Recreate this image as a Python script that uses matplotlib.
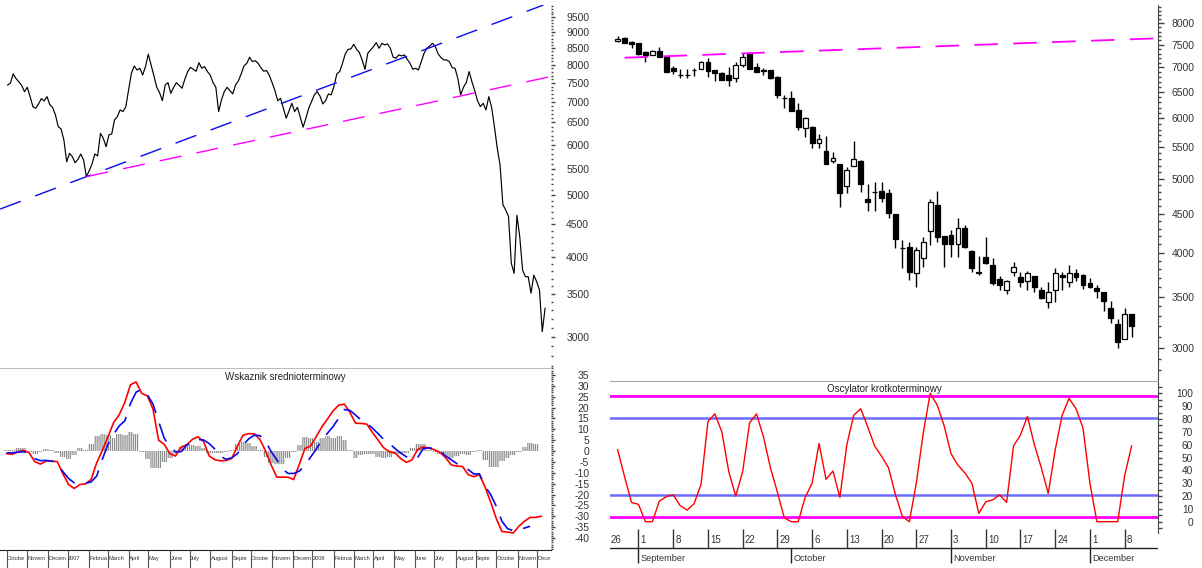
import numpy as np
import pandas as pd
import matplotlib
matplotlib.use('Agg')
import matplotlib.pyplot as plt
from matplotlib.ticker import FixedLocator, NullFormatter, FuncFormatter
from matplotlib.patches import Rectangle

plt.rcParams['font.family'] = ['Liberation Sans', 'DejaVu Sans']
plt.rcParams['lines.scale_dashes'] = False
plt.rcParams['hatch.linewidth'] = 0.6

# ---------------- long-term chart data ----------------
LONG_ORIGIN = '2006-10-02'
close_start = '2006-10-03'          # one value every 3 trading days
close_every3 = [
    7440, 7490, 7745, 7615, 7525, 7430, 7265, 7380, 7135, 6880,
    6840, 6950, 7085, 7025, 7135, 6930, 6860, 6680, 6400, 6350,
    6100, 5640, 5815, 5745, 5620, 5690, 5800, 5675, 5345, 5460,
    5595, 5800, 5760, 6250, 6140, 5955, 6215, 6235, 6560, 6640,
    6800, 6760, 6880, 7310, 7765, 7970, 7855, 7905, 7715, 7950,
    8315, 8000, 7690, 7380, 7240, 7030, 7440, 7505, 7220, 7380,
    7505, 7430, 7355, 7600, 7810, 7930, 7875, 7820, 8065, 7905,
    7950, 7810, 7715, 7505, 7380, 6760, 7050, 7265, 7380, 7290,
    7205, 7440, 7550, 7745, 7970, 8048, 8225, 8096, 8125, 8048,
    7920, 7820, 7840, 7705, 7505, 7290, 7030, 7090, 6840, 6600,
    6775, 6965, 6760, 6865, 6620, 6390, 6600, 6840, 7010, 7180,
    7265, 7150, 6950, 7030, 7205, 7180, 7415, 7745, 7810, 8048,
    8325, 8465, 8475, 8620, 8465, 8365, 8145, 7875, 8345, 8445,
    8545, 8670, 8495, 8650, 8600, 8630, 8495, 8225, 8195, 8295,
    8265, 8295, 8165, 8048, 7875, 7905, 7855, 8096, 8345, 8495,
    8565, 8650, 8545, 8325, 8215, 8145, 8145, 8096, 7920, 7905,
    7615, 7180, 7380, 7505, 7810, 7530, 7290, 7030, 6880, 6965,
    6800, 7135, 6865, 6400, 5920, 5575, 4830, 4740, 4630, 3909,
    3770, 4650, 4300, 3816, 3725, 3725, 3510, 3745, 3659, 3550,
    3055, 3323]

ind_start = '2006-10-02'            # one value every 6 trading days
ind_red = [
    -1.2, -1.5, -0.3, 0.3, -0.8, -4.9, -6.0, -4.6, -4.6, -4.9,
    -10.5, -15.4, -17.2, -15.4, -15.1, -13.1, -5.4, 0.3, 6.5, 13.1,
    16.7, 22.4, 30.5, 31.8, 26.5, 25.4, 19.3, 5.0, 3.1, -1.2,
    -2.3, 1.9, 2.8, 5.4, 6.6, 4.3, -2.3, -4.0, -4.5, -4.3,
    -3.4, 2.3, 7.3, 8.0, 7.9, 5.4, 0.0, -6.4, -12.0, -12.0,
    -12.0, -13.1, -6.1, 1.2, 2.3, 6.6, 11.1, 14.7, 18.5, 21.1,
    21.6, 17.7, 12.8, 12.7, 12.4, 8.5, 5.0, 1.5, -0.3, -0.9,
    -3.4, -5.2, -4.1, 0.7, 1.9, 1.4, 0.6, -0.6, -3.1, -6.4,
    -6.9, -7.1, -10.8, -11.8, -10.8, -16.6, -23.4, -31.1, -37.0, -37.3,
    -37.7, -34.6, -32.3, -30.5, -30.5, -30.0]
ind_blue = [
    -0.8, -0.8, -0.5, -0.3, -0.8, -3.5, -4.4, -4.3, -4.6, -5.8,
    -9.5, -12.6, -14.6, -14.9, -14.8, -14.2, -11.5, -3.8, 3.1, 7.7,
    11.6, 13.9, 21.9, 27.1, 28.4, 25.9, 21.6, 13.6, 5.9, 1.9,
    -0.3, -0.3, 2.8, 4.2, 5.3, 5.1, 3.4, 0.9, -2.4, -3.8,
    -3.1, -1.2, 2.8, 5.6, 7.3, 7.1, 4.6, -0.3, -4.0, -8.3,
    -10.3, -10.3, -9.2, -6.6, -2.8, 0.9, 5.0, 8.2, 11.3, 15.1,
    19.1, 18.7, 16.5, 14.2, 12.8, 10.5, 8.0, 5.3, 3.4, 1.2,
    -0.9, -2.6, -3.7, -3.1, 1.1, 1.5, 1.1, 0.2, -2.3, -4.0,
    -5.8, -6.9, -8.5, -10.5, -10.5, -16.2, -20.0, -25.4, -32.3, -35.7,
    -36.6, -36.3, -35.4, -34.6]
ind_hist = [
    0.3, 0.6, 1.2, 1.2, -0.3, -1.2, -0.3, 1.1, 0.6, -0.8,
    -2.8, -3.8, -1.8, 1.5, 0.6, 3.4, 6.9, 8.0, 7.4, 5.9,
    7.7, 7.3, 8.8, 8.0, -0.3, -3.8, -8.0, -8.0, -4.9, -3.4,
    -1.2, 2.0, 3.1, 2.9, 2.3, 1.2, -0.8, -0.8, -0.9, -0.6,
    0.3, 3.1, 4.3, 3.8, 2.1, 0.6, -2.8, -5.4, -6.1, -6.1,
    -3.1, -0.3, 2.8, 6.5, 5.9, 4.3, 5.9, 7.1, 5.9, 6.8,
    5.0, 0.3, -3.1, -1.8, -1.2, -1.5, -2.8, -3.4, -2.8, -1.2,
    -1.2, -0.9, 1.2, 3.4, 3.1, 0.7, -0.5, -1.2, -2.5, -3.4,
    -2.3, -1.5, -1.8, -0.3, 0.7, -4.3, -7.4, -7.2, -4.6, -3.1,
    -1.8, -0.3, 1.9, 3.6, 3.1]

blue_trend_dates = ['2007-01-29', '2008-06-30']
blue_trend_vals = [5345, 8556]
mag_trend_dates = ['2007-01-29', '2008-08-11']
mag_trend_vals = [5345, 7157]

left_price_ticks = list(range(3000, 10000, 500))
left_ind_ticks = list(range(-40, 40, 5))
# month labels as they appear (truncated) on the long chart's time axis
left_month_labels = ['Octobe', 'Novem', 'Decem', '2007', 'Februa', 'March',
                     'April', 'May', 'June', 'July', 'August', 'Septe', 'Octobe',
                     'Novem', 'Decem', '2008', 'Februa', 'March', 'April', 'May',
                     'June', 'July', 'August', 'Septe', 'Octobe', 'Novem', 'Dece']
left_title = 'Wskaznik srednioterminowy'

# ---------------- short-term chart data ----------------
candle_start = '2008-08-27'
c_open = [7575, 7655, 7570, 7530, 7345, 7270, 7366, 7248, 6983, 6850,
          6845, 6940, 6968, 7124, 6947, 6892, 6836, 6774, 7053, 7306,
          7004, 6947, 6947, 6809, 6390, 6390, 6156, 5835, 5852, 5565,
          5438, 5281, 5223, 4897, 5197, 5281, 4699, 4805, 4818, 4784,
          4490, 4060, 4063, 3756, 3931, 4273, 4619, 4205, 4218, 4100,
          4304, 4023, 3770, 3950, 3852, 3689, 3572, 3775, 3711, 3670,
          3726, 3572, 3441, 3572, 3737, 3663, 3756, 3737, 3652, 3590,
          3546, 3379, 3223, 3080, 3318]
c_high = [7700, 7685, 7575, 7535, 7350, 7380, 7455, 7250, 7039, 6961,
          6960, 6983, 7140, 7197, 6950, 6900, 7004, 7124, 7320, 7310,
          7089, 6983, 6955, 6815, 6442, 6527, 6281, 6032, 5860, 5725,
          5690, 5427, 5230, 5187, 5610, 5285, 4917, 4956, 4956, 4840,
          4495, 4155, 4134, 4072, 4197, 4699, 4813, 4210, 4282, 4436,
          4347, 4030, 3958, 4188, 3931, 3726, 3680, 3891, 3775, 3787,
          3730, 3608, 3663, 3813, 3775, 3852, 3802, 3745, 3700, 3626,
          3550, 3455, 3268, 3379, 3320]
c_low = [7550, 7530, 7418, 7280, 7124, 7260, 7220, 6900, 6864, 6774,
         6790, 6823, 6960, 6795, 6713, 6730, 6626, 6706, 7004, 6960,
         6905, 6843, 6760, 6377, 6187, 6130, 5794, 5678, 5482, 5482,
         5220, 5239, 4586, 4794, 5190, 4809, 4540, 4540, 4665, 4436,
         4051, 3813, 3681, 3601, 3833, 4092, 4125, 3833, 3950, 3950,
         4060, 3775, 3737, 3860, 3630, 3572, 3529, 3726, 3601, 3572,
         3546, 3480, 3379, 3448, 3572, 3608, 3674, 3579, 3595, 3483,
         3355, 3236, 3000, 3075, 3102]
c_close = [7620, 7545, 7510, 7292, 7270, 7366, 7233, 6913, 6933, 6843,
           6840, 6947, 7124, 6933, 6892, 6741, 6741, 7053, 7233, 6968,
           6913, 6920, 6774, 6442, 6377, 6137, 5852, 6002, 5565, 5633,
           5228, 5319, 4794, 5134, 5303, 4917, 4656, 4809, 4722, 4503,
           4163, 4059, 3768, 4031, 4125, 4665, 4197, 4100, 4100, 4304,
           4072, 3813, 3764, 3872, 3644, 3626, 3674, 3833, 3663, 3756,
           3601, 3483, 3546, 3756, 3711, 3756, 3711, 3626, 3601, 3561,
           3455, 3278, 3049, 3318, 3206]
osc_vals = [56, 35, 15, 13.5, 0, 0, 16, 19.5, 21, 12.5,
            9, 14, 29, 78, 84, 70, 39, 20, 39, 77,
            84, 66, 42, 23, 3, 0, 0, 19, 30, 61,
            33, 39.5, 19, 60, 83, 88, 74, 59, 51, 42,
            21, 4, 0, 30, 69, 100, 91, 75, 53, 44,
            38, 30, 6.5, 15.5, 17, 21, 15, 59, 67.5, 82,
            60, 42, 22, 56, 83, 96, 88, 73, 30, 0,
            0, 0, 0, 36, 59]
osc_outer = [4, 98]
osc_inner = [21, 81]
short_trend_pos = [1, 75]
short_trend_vals = [7210, 7630]
right_price_ticks = list(range(3000, 8500, 500))
osc_ticks = list(range(0, 110, 10))
first_week_label = '26'
right_title = 'Oscylator krotkoterminowy'

# ---------------- figure ----------------
W, H = 1202, 568
fig = plt.figure(figsize=(W / 100, H / 100), dpi=100)


def rect(x0, y0, x1, y1):
    return [x0 / W, 1 - y1 / H, (x1 - x0) / W, (y1 - y0) / H]


def bidx(dates):
    d = pd.DatetimeIndex(pd.to_datetime(dates)).values.astype('datetime64[D]')
    return np.busday_count(np.datetime64(LONG_ORIGIN), d)


ax1 = fig.add_axes(rect(0, 5, 551, 368))
ax2 = fig.add_axes(rect(0, 368, 551, 550))
ax2d = fig.add_axes(rect(0, 550, 551, 568))
ax3 = fig.add_axes(rect(610, 5, 1158, 381))
ax4 = fig.add_axes(rect(610, 381, 1158, 533))
ax4d = fig.add_axes(rect(610, 528, 1158, 568))

XL = (-7.1, 580.3)
XR = (-1.1, 77.8)
TXT = '#333333'
TICKC = '#444444'


def right_ticks(ax, major, minor, fmt_pad, maj_len, min_len, size):
    ax.yaxis.tick_right()
    ax.yaxis.set_major_locator(FixedLocator(major))
    ax.yaxis.set_minor_locator(FixedLocator(minor))
    ax.yaxis.set_major_formatter(FuncFormatter(lambda v, p: f'{v:.0f}'))
    ax.yaxis.set_minor_formatter(NullFormatter())
    ax.tick_params(axis='y', which='major', direction='out', length=maj_len, width=1,
                   color=TICKC, labelsize=size, labelcolor=TXT, pad=fmt_pad)
    ax.tick_params(axis='y', which='minor', direction='out', length=min_len, width=1,
                   color=TICKC)
    ax.tick_params(axis='x', which='both', bottom=False, top=False,
                   labelbottom=False, labeltop=False)
    for s in ax.spines.values():
        s.set_visible(False)


# ---- left price ----
close_dates = pd.bdate_range(close_start, periods=len(close_every3), freq='3B')
x_close = bidx(close_dates)
ax1.plot(x_close, close_every3, color='black', lw=0.85)
ax1.set_yscale('log')
ax1.set_xlim(XL)
ax1.set_ylim(2679, 9932)
xb = bidx(blue_trend_dates)
ax1.axline((xb[0], blue_trend_vals[0]), (xb[1], blue_trend_vals[1]),
           color='#0a0aee', lw=1.0, ls=(0, (16, 11)))
xm = bidx(mag_trend_dates)
lvm = np.log(mag_trend_vals)
slm = (lvm[1] - lvm[0]) / (xm[1] - xm[0])
xe = XL[1] + 5
ax1.plot([xm[0], xe], [mag_trend_vals[0], np.exp(lvm[0] + slm * (xe - xm[0]))],
         color='#ff00ff', lw=1.0, ls=(0, (16, 11)))
right_ticks(ax1, left_price_ticks, list(range(2700, 10000, 100)), 24.5, 3, 1.5, 7.5)

# ---- left indicator ----
ind_dates = pd.bdate_range(ind_start, periods=len(ind_red), freq='6B')
x_ind = bidx(ind_dates)
ax2.bar(x_ind[:len(ind_hist)], ind_hist, width=6, facecolor='#8c8c8c', edgecolor='white',
        hatch='||||||||', linewidth=0)
ax2.plot(x_ind, ind_red, color='#ff0000', lw=1.2)
ax2.plot(x_ind[:len(ind_blue)], ind_blue, color='#0a0aee', lw=1.2, ls=(0, (14, 8)))
ax2.set_xlim(XL)
ax2.set_ylim(-45.5, 38.2)
right_ticks(ax2, left_ind_ticks, list(range(-45, 39, 1)), 24.5, 3, 1.5, 7.5)
ax2.spines['top'].set_visible(True)
ax2.spines['top'].set_color('#bdbdbd')
ax2.spines['bottom'].set_visible(True)
ax2.spines['bottom'].set_color('#222222')
fig.text(285 / W, 1 - 377 / H, left_title, ha='center', va='center', fontsize=7, color='#222222')

# ---- left date band ----
ax2d.set_xlim(XL)
ax2d.set_ylim(0, 1)
ax2d.axis('off')
months = pd.date_range('2006-10-01', '2008-12-31', freq='BMS')
mx = bidx(months)
ax2d.vlines(mx, 0, 1, color='#555555', lw=0.8)
edges = list(mx) + [XL[1]]
for i, lab in enumerate(left_month_labels):
    t = ax2d.text(mx[i] + 0.6, 0.42, lab, fontsize=4.1, va='baseline', ha='left',
                  color=TXT, clip_on=True)
    t.set_clip_path(Rectangle((mx[i], 0), edges[i + 1] - mx[i], 1, transform=ax2d.transData))

# ---- right candles ----
n = len(c_open)
xc = np.arange(n)
o = np.array(c_open, float)
c = np.array(c_close, float)
up = c >= o
ax3.vlines(xc, c_low, c_high, color='black', lw=1.0, zorder=2)
lo = np.minimum(o, c)
hi = np.maximum(o, c)
ax3.bar(xc, hi - lo, bottom=lo, width=0.7, color=np.where(up, 'white', 'black'),
        edgecolor='black', linewidth=0.9, zorder=3)
ax3.set_yscale('log')
ax3.set_xlim(XR)
ax3.set_ylim(2712, 8456)
lvs = np.log(short_trend_vals)
sls = (lvs[1] - lvs[0]) / (short_trend_pos[1] - short_trend_pos[0])
xe2 = XR[1] + 3
ax3.plot([short_trend_pos[0], xe2],
         [short_trend_vals[0], np.exp(lvs[0] + sls * (xe2 - short_trend_pos[0]))],
         color='#ff00ff', lw=1.3, ls=(0, (17, 11)), zorder=4)
right_ticks(ax3, right_price_ticks, list(range(2800, 8500, 100)), 22.3, 4, 2, 7.5)
ax3.spines['right'].set_visible(True)
ax3.spines['right'].set_color(TICKC)

# ---- right oscillator ----
ax4.plot(xc, osc_vals, color='#ff0000', lw=1.0, zorder=3)
for v in osc_outer:
    ax4.axhline(v, color='#ff00ff', lw=2.0, zorder=2)
for v in osc_inner:
    ax4.axhline(v, color='#6a6aff', lw=1.8, zorder=2)
ax4.set_xlim(XR)
ax4.set_ylim(-8.8, 109.6)
right_ticks(ax4, osc_ticks, list(range(-5, 110, 5)), 22.3, 3, 3, 7.3)
ax4.spines['right'].set_visible(True)
ax4.spines['right'].set_color(TICKC)
ax4.spines['top'].set_visible(True)
ax4.spines['top'].set_color('#aaaaaa')
fig.text(884 / W, 1 - 389 / H, right_title, ha='center', va='center', fontsize=7, color='#222222')

# ---- right date band ----
ax4d.set_xlim(XR)
ax4d.set_ylim(0, 1)
ax4d.axis('off')
cdates = pd.bdate_range(candle_start, periods=n)
ax4d.axhline(0.5, color='#222222', lw=1.0)
mondays = [i for i, d in enumerate(cdates) if d.weekday() == 0]
ax4d.vlines(mondays, 0.5, 0.98, color='#333333', lw=1.0)
for i in mondays:
    ax4d.text(i + 0.3, 0.7, str(cdates[i].day), fontsize=7, va='center', ha='left', color=TXT)
ax4d.text(XR[0] + 0.05, 0.7, first_week_label, fontsize=7, va='center', ha='left', color=TXT)
mstarts = [i for i in range(1, n) if cdates[i].month != cdates[i - 1].month]
ax4d.vlines(mstarts, 0.12, 0.5, color='#222222', lw=1.0)
for i in mstarts:
    ax4d.text(i + 0.3, 0.27, cdates[i].strftime('%B'), fontsize=6.6, va='center_baseline',
              ha='left', color=TXT)

# right-align value labels
fig.canvas.draw()
for ax in (ax1, ax2, ax3, ax4):
    for lab in ax.get_yticklabels():
        lab.set_horizontalalignment('right')

fig.savefig('out.png', dpi=100)
